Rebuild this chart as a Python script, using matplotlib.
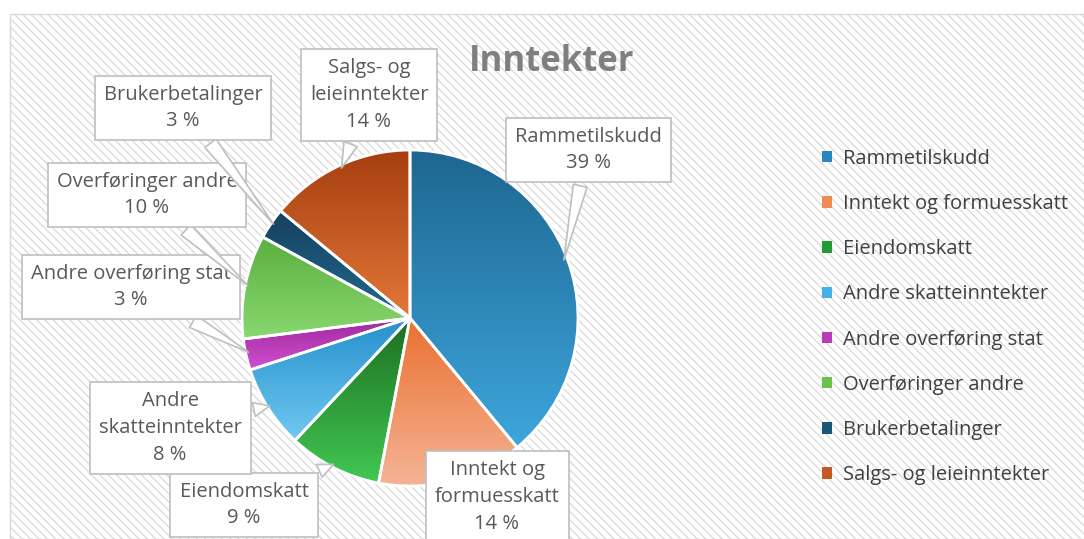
import numpy as np
import matplotlib
matplotlib.use("Agg")
import matplotlib.pyplot as plt
from matplotlib.colors import LinearSegmentedColormap
from matplotlib.patches import Rectangle, Patch

# data
kategorier = ["Rammetilskudd", "Inntekt og formuesskatt", "Eiendomskatt",
              "Andre skatteinntekter", "Andre overføring stat", "Overføringer andre",
              "Brukerbetalinger", "Salgs- og leieinntekter"]
andel = [39, 14, 9, 8, 3, 10, 3, 14]
etiketter = ["Rammetilskudd", "Inntekt og\nformuesskatt", "Eiendomskatt",
             "Andre\nskatteinntekter", "Andre overføring stat", "Overføringer andre",
             "Brukerbetalinger", "Salgs- og\nleieinntekter"]

# farger (mørk topp -> lys bunn)
farger = [("#1d6690", "#3ea6dc"), ("#ea7030", "#f5b496"), ("#1c6e22", "#42c852"),
          ("#2590cc", "#70c8f0"), ("#a0289c", "#d050d0"), ("#5ab040", "#8ad870"),
          ("#15405c", "#226a90"), ("#a63e10", "#e27838")]
legend_farge = ["#2a86bc", "#f08a50", "#249a34", "#45b0e4", "#b83cb8", "#6cc050", "#1a5578", "#c45a22"]

# plassering av etikettbokser i piksler (x, y fra toppen)
boks_pos = [(588, 150), (497, 497), (244, 505), (170, 428), (131, 287), (147, 195), (183, 108), (369, 95)]

W, H = 1084, 539
fig = plt.figure(figsize=(W / 100, H / 100), dpi=100)
fig.patch.set_facecolor("white")

plt.rcParams["hatch.color"] = "#d4d4d4"
plt.rcParams["hatch.linewidth"] = 0.9
bg = Rectangle((10 / W, 0), 1, 1 - 14 / H, transform=fig.transFigure,
               facecolor="white", edgecolor="#d9d9d9", hatch="\\\\\\\\", lw=1, zorder=-5)
fig.patches.append(bg)

fig.text(552 / W, 1 - 62 / H, "Inntekter", ha="center", va="center",
         fontsize=25, fontweight="bold", color="#7f7f7f", family="Open Sans")

# pie
cx, cy, r = 410, 318, 168
ax = fig.add_axes([(cx - r) / W, (H - cy - r) / H, 2 * r / W, 2 * r / H], zorder=2)
ax.patch.set_alpha(0)
ax.axis("off")

wedges, _ = ax.pie(andel, startangle=90, counterclock=False, radius=1,
                   wedgeprops=dict(edgecolor="white", linewidth=2))

grad = np.linspace(0, 1, 256).reshape(-1, 1)
for w, (c1, c2) in zip(wedges, farger):
    w.set_facecolor("none")
    cmap = LinearSegmentedColormap.from_list("g", [c1, c2])
    bb = w.get_path().get_extents(w.get_patch_transform())
    im = ax.imshow(grad, cmap=cmap, aspect="auto",
                   extent=[bb.x0, bb.x1, bb.y0, bb.y1], origin="upper", zorder=1)
    im.set_clip_path(w)
    w.set_zorder(2)
ax.set_xlim(-1, 1)
ax.set_ylim(-1, 1)

# callouts
cum = np.cumsum([0] + andel[:-1])
for i, (lab, v) in enumerate(zip(etiketter, andel)):
    mid = 90 - (cum[i] + v / 2) / sum(andel) * 360
    px, py = 0.97 * np.cos(np.radians(mid)), 0.97 * np.sin(np.radians(mid))
    bx, by = boks_pos[i]
    ax.annotate(f"{lab}\n{v} %", xy=(px, py), xycoords="data",
                xytext=(bx, H - by), textcoords="figure pixels",
                ha="center", va="center", fontsize=14.5, color="#595959",
                family="Open Sans", linespacing=1.45, annotation_clip=False,
                bbox=dict(boxstyle="square,pad=0.45", fc="white", ec="#bfbfbf", lw=1.2),
                arrowprops=dict(arrowstyle="wedge,tail_width=0.7,shrink_factor=0.5",
                                fc="white", ec="#bfbfbf", lw=1.2),
                zorder=5)

handles = [Patch(facecolor=c, edgecolor="none") for c in legend_farge]
fig.legend(handles, kategorier, loc="center left", bbox_to_anchor=(804 / W, 1 - 317 / H),
           frameon=False, labelcolor="#404040", handlelength=0.5,
           handleheight=0.5, handletextpad=0.55, labelspacing=1.25,
           prop=dict(family="Open Sans", size=14.5))

fig.savefig("out.png", dpi=100)
